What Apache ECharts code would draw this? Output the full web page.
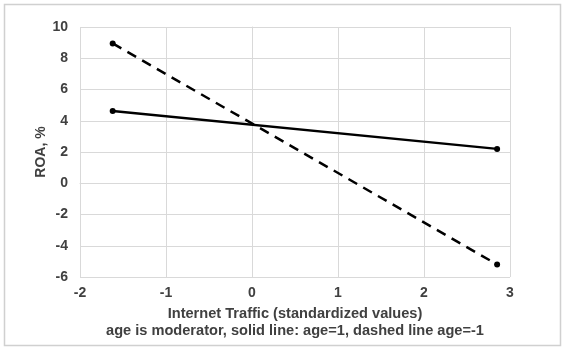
<!DOCTYPE html>
<html>
<head>
<meta charset="utf-8">
<script src="https://cdn.jsdelivr.net/npm/echarts@6/dist/echarts.min.js"></script>
<style>
  html, body { margin: 0; padding: 0; background: #fff; }
  #chart { width: 566px; height: 350px; }
</style>
</head>
<body>
<div id="chart"></div>
<script>
// interaction plot, age moderator
const xTicks = [-2, -1, 0, 1, 2, 3];
const yTicks = [-6, -4, -2, 0, 2, 4, 6, 8, 10];
const traffic = [-1.62, 2.85];
const solidAge1 = [4.62, 2.2];
const dashedAgeMinus1 = [8.95, -5.2];

const textColor = "#404040";
const gridColor = "#d9d9d9";

const chart = echarts.init(document.getElementById("chart"));

const option = {
  animation: false,
  graphic: [
    {
      type: "rect",
      shape: { x: 4.5, y: 4.5, width: 556, height: 341 },
      style: { fill: "none", stroke: "#d0d0d0", lineWidth: 1.5 },
    },
  ],
  grid: { left: 80, right: 56, top: 27, bottom: 73 },
  xAxis: {
    type: "value",
    min: xTicks[0],
    max: xTicks[xTicks.length - 1],
    interval: 1,
    name: "Internet Traffic (standardized values)\nage is moderator, solid line: age=1, dashed line age=-1",
    nameLocation: "middle",
    nameGap: 28,
    nameTextStyle: {
      color: textColor,
      fontFamily: "Liberation Sans",
      fontWeight: "bold",
      fontSize: 14.6,
      lineHeight: 17,
    },
    axisLine: { show: true, lineStyle: { color: gridColor, width: 1 } },
    axisTick: { show: false },
    axisLabel: {
      color: textColor,
      fontFamily: "Liberation Sans",
      fontWeight: "bold",
      fontSize: 14,
      margin: 9,
    },
    splitLine: { show: true, lineStyle: { color: gridColor, width: 1 } },
  },
  yAxis: {
    type: "value",
    min: yTicks[0],
    max: yTicks[yTicks.length - 1],
    interval: 2,
    name: "ROA, %",
    nameLocation: "middle",
    nameMoveOverlap: false,
    nameGap: 32,
    nameTextStyle: {
      color: textColor,
      fontFamily: "Liberation Sans",
      fontWeight: "bold",
      fontSize: 14,
    },
    axisLine: { show: true, lineStyle: { color: gridColor, width: 1 } },
    axisTick: { show: false },
    axisLabel: {
      color: textColor,
      fontFamily: "Liberation Sans",
      fontWeight: "bold",
      fontSize: 14,
      margin: 12,
    },
    splitLine: { show: true, lineStyle: { color: gridColor, width: 1 } },
  },
  series: [
    {
      name: "age=1",
      type: "line",
      data: traffic.map((x, i) => [x, solidAge1[i]]),
      symbol: "circle",
      symbolSize: 6,
      itemStyle: { color: "#000" },
      lineStyle: { color: "#000", width: 2.5 },
    },
    {
      name: "age=-1",
      type: "line",
      data: traffic.map((x, i) => [x, dashedAgeMinus1[i]]),
      symbol: "circle",
      symbolSize: 6,
      itemStyle: { color: "#000" },
      lineStyle: { color: "#000", width: 2.5, type: [10, 7] },
    },
  ],
};

chart.setOption(option);
</script>
</body>
</html>
